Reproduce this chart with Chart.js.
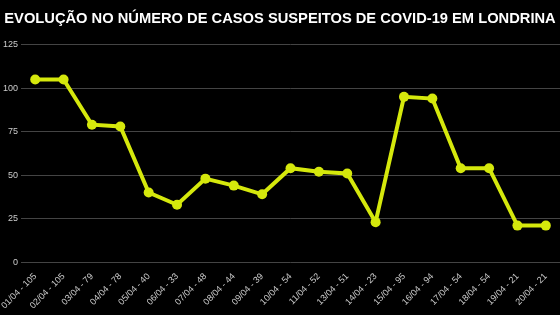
<!DOCTYPE html>
<html>
<head>
<meta charset="utf-8">
<script src="https://cdn.jsdelivr.net/npm/chart.js@4/dist/chart.umd.min.js"></script>
<style>
  html, body { margin: 0; padding: 0; background: #000; }
  #wrap { width: 560px; height: 315px; position: relative; }
</style>
</head>
<body>
<div id="wrap"><canvas id="canvas"></canvas></div>
<script>
var dias = ["01/04","02/04","03/04","04/04","05/04","06/04","07/04","08/04","09/04","10/04",
            "11/04","13/04","14/04","15/04","16/04","17/04","18/04","19/04","20/04"];
var casos = [105,105,79,78,40,33,48,44,39,54,52,51,23,95,94,54,54,21,21];
var yTicks = [0,25,50,75,100,125];

var rotulos = [];
for (var i=0; i<dias.length; i++) {
  rotulos[i] = dias[i] + " - " + casos[i];
}

var ctx = document.getElementById("canvas").getContext("2d");
var chr = new Chart(ctx, {
  type: "line",
  data: {
    labels: rotulos,
    datasets: [{
      label: "Casos suspeitos",
      data: casos,
      borderColor: "#d5e80c",
      backgroundColor: "#d5e80c",
      borderWidth: 4,
      pointRadius: 5,
      pointBorderWidth: 0,
      tension: 0
    }]
  },
  options: {
    responsive: true,
    maintainAspectRatio: false,
    animation: false,
    layout: { autoPadding: false, padding: { left: 0, right: 0, top: 0, bottom: 3 } },
    plugins: {
      legend: { display: false },
      tooltip: { enabled: false },
      title: {
        display: true,
        text: "EVOLUÇÃO NO NÚMERO DE CASOS SUSPEITOS DE COVID-19 EM LONDRINA",
        color: "#ffffff",
        font: { family: "Liberation Sans", size: 14.7, weight: "bold" },
        padding: { top: 10, bottom: 17 }
      }
    },
    scales: {
      x: {
        offset: true,
        grid: { display: false },
        border: { display: false },
        ticks: {
          color: "#cccccc",
          font: { family: "Liberation Sans", size: 9 },
          maxRotation: 45,
          minRotation: 45,
          autoSkip: false,
          padding: 1
        }
      },
      y: {
        min: 0,
        max: 125,
        afterBuildTicks: function (axis) {
          axis.ticks = yTicks.map(function (v) { return { value: v }; });
        },
        grid: { color: "#444444", drawTicks: false, lineWidth: 1 },
        border: { display: false },
        ticks: {
          color: "#cccccc",
          font: { family: "Liberation Sans", size: 9 },
          padding: 3
        }
      }
    }
  }
});
</script>
</body>
</html>
